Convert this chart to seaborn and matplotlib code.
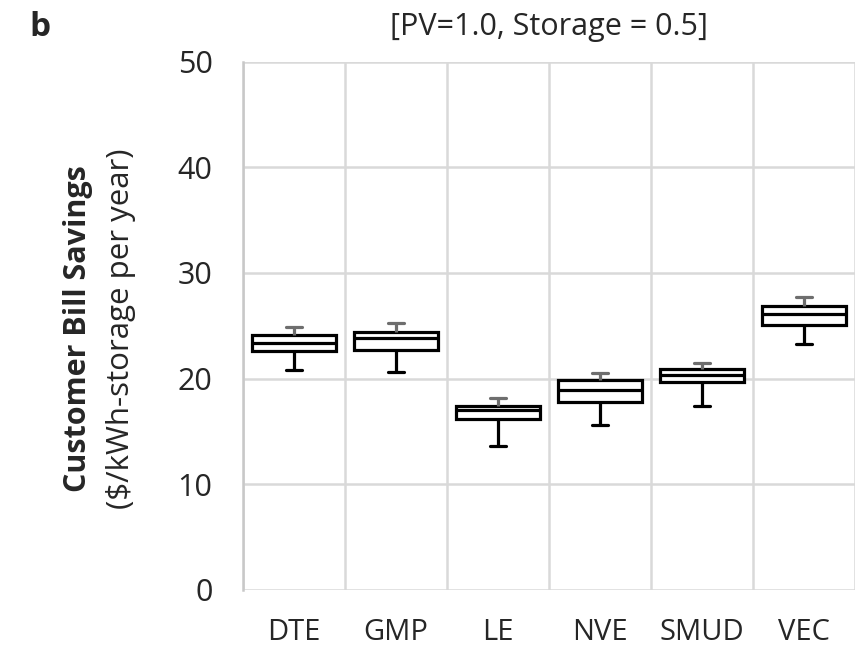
import matplotlib
matplotlib.use("Agg")
import matplotlib.pyplot as plt
import pandas as pd
import seaborn as sns

# five-number summaries, one entry per utility
utilities = ["DTE", "GMP", "LE", "NVE", "SMUD", "VEC"]
whisker_low = [20.8, 20.6, 13.6, 15.6, 17.4, 23.3]
box_low = [22.6, 22.7, 16.2, 17.8, 19.7, 25.1]
medians = [23.4, 23.8, 17.0, 18.9, 20.35, 26.1]
box_high = [24.15, 24.4, 17.4, 19.9, 20.9, 26.9]
whisker_high = [24.9, 25.3, 18.2, 20.55, 21.5, 27.7]
y_ticks = [0, 10, 20, 30, 40, 50]

GRID = "#d9d9d9"
UPPER = "#6e6e6e"
TEXT = "#262626"

# five points per utility reproduce the summary exactly with whis=(0, 100)
rows = []
for i, name in enumerate(utilities):
    for v in (whisker_low[i], box_low[i], medians[i], box_high[i], whisker_high[i]):
        rows.append({"utility": name, "savings": v})
df = pd.DataFrame(rows)

sns.set_theme(style="white")
plt.rcParams["font.family"] = ["Open Sans", "DejaVu Sans"]

fig = plt.figure(figsize=(8.56, 6.49), dpi=100)
ax = fig.add_axes([0.284, 0.091, 0.715, 0.814])

sns.boxplot(
    data=df, x="utility", y="savings", order=utilities, ax=ax,
    whis=(0, 100), width=0.83, color="white", linecolor="black",
    linewidth=2.3, showfliers=False, capwidths=0.16,
)

# upper whisker and cap are grey in the original
for line in ax.lines:
    xs, ys = line.get_xdata(), line.get_ydata()
    if len(xs) != 2:
        continue
    idx = int(round(sum(xs) / 2))
    if min(ys) >= box_high[idx] - 1e-9:
        line.set_color(UPPER)

ax.set_xlim(-0.5, len(utilities) - 0.5)
ax.set_ylim(0, 50)
ax.set_yticks(y_ticks)
ax.set_xticks(range(len(utilities)))
ax.set_xticklabels(utilities)
ax.set_xticks([i - 0.5 for i in range(len(utilities) + 1)], minor=True)
ax.grid(True, axis="y", which="major", color=GRID, lw=1.8)
ax.grid(True, axis="x", which="minor", color=GRID, lw=1.8)
ax.grid(False, axis="x", which="major")
ax.set_axisbelow(True)
for side in ("top", "right", "bottom"):
    ax.spines[side].set_visible(False)
ax.spines["left"].set_color("#c8c8c8")
ax.spines["left"].set_linewidth(1.8)
ax.tick_params(axis="y", which="both", length=0, pad=22, labelsize=22, labelcolor=TEXT)
ax.tick_params(axis="x", which="both", length=0, pad=20, labelsize=21, labelcolor=TEXT)
ax.set_xlabel("")
ax.set_ylabel("")

fig.text(0.6415, 0.958, "[PV=1.0, Storage = 0.5]", fontsize=22, color=TEXT,
         ha="center", va="center")
fig.text(0.047, 0.958, "b", fontsize=24, fontweight="bold", ha="center", va="center")
fig.text(0.091, 0.494, "Customer Bill Savings", rotation=90, fontsize=22,
         fontweight="bold", ha="center", va="center", color=TEXT)
fig.text(0.141, 0.494, "($/kWh-storage per year)", rotation=90, fontsize=22.5,
         ha="center", va="center", color=TEXT)

fig.savefig("out.png", dpi=100)
